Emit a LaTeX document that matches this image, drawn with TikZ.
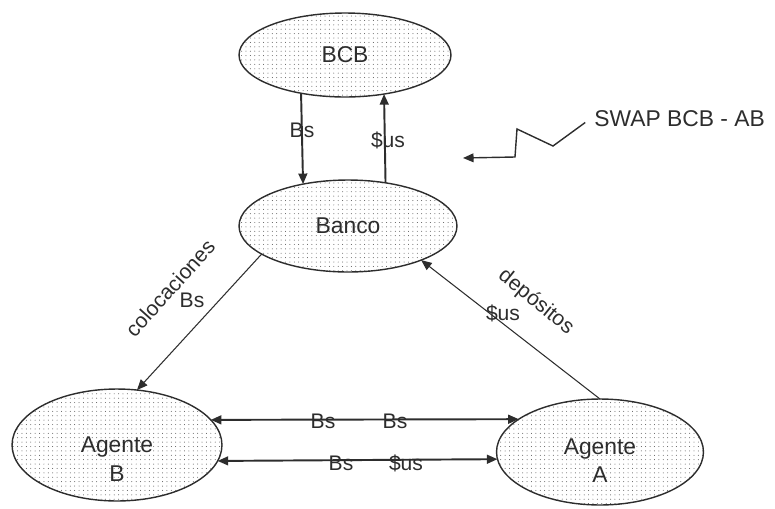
\documentclass[tikz,border=0pt]{standalone}
\usepackage{fontspec}
\setmainfont{Liberation Sans}
\usepackage{xcolor}
\usetikzlibrary{shapes.geometric,arrows.meta,patterns.meta}
\definecolor{inkgray}{RGB}{45,45,45}
\definecolor{dotgray}{RGB}{80,80,80}

\begin{document}
\begin{tikzpicture}[x=0.02cm,y=-0.02cm,
  ent/.style={ellipse,draw=inkgray,line width=0.8pt,inner sep=0pt,outer sep=0pt,
    pattern={Dots[distance=2.5pt,radius=0.28pt]},pattern color=dotgray,
    font=\fontsize{13}{16}\selectfont,text=inkgray,align=center},
  lbl/.style={font=\fontsize{12}{14}\selectfont,text=inkgray,inner sep=1pt},
  flow/.style={draw=inkgray,line width=1.1pt,-{Triangle[length=6pt,width=5pt]}},
  slim flow/.style={draw=inkgray,line width=0.6pt,-{Triangle[length=6pt,width=5pt]}}]
  \useasboundingbox (0,0) rectangle (775,508);
  % entities (pixel grid, y downwards)
  \node[ent,minimum width=4.24cm,minimum height=1.68cm] (bcb) at (345,55) {BCB};
  \node[ent,minimum width=4.36cm,minimum height=1.84cm] (banco) at (348,226) {Banco};
  \node[ent,minimum width=4.2cm,minimum height=2.24cm,text height=41pt] (agenteB) at (117,445) {Agente\\B};
  \node[ent,minimum width=4.14cm,minimum height=2.12cm,text height=35pt] (agenteA) at (600,452) {Agente\\A};
  % BCB <-> Banco
  \draw[flow] (bcb.221.8) -- (banco.137.8);
  \draw[flow] (banco.49.5) -- (bcb.315.8);
  \node[lbl] (bsdown) at (302,130) {Bs};
  \node[lbl] (usup) at (388,140) {\$us};
  % Banco -> Agente B, Agente A -> Banco
  \draw[slim flow] (banco.198.8) -- (agenteB.70.7);
  \node[lbl,rotate=48] (coloc) at (170,288) {colocaciones};
  \node[lbl] (colocbs) at (192,300) {Bs};
  \draw[slim flow] (agenteA.north) -- (banco.335.7);
  \node[lbl,rotate=-39] (depo) at (536,302) {depósitos};
  \node[lbl] (depous) at (503,313) {\$us};
  % agents
  \draw[flow,{Triangle[length=6pt,width=5pt]}-{Triangle[length=6pt,width=5pt]}] (agenteB.15) -- (agenteA.158.8);
  \draw[flow,{Triangle[length=6pt,width=5pt]}-{Triangle[length=6pt,width=5pt]}] (agenteB.351.6) -- (agenteA.184.5);
  \node[lbl] (topbsl) at (323,421) {Bs};
  \node[lbl] (topbsr) at (395,421) {Bs};
  \node[lbl] (botbs) at (341,463) {Bs};
  \node[lbl] (botus) at (406,463) {\$us};
  % swap
  \node[font=\fontsize{13}{16}\selectfont,text=inkgray,anchor=west,inner sep=0pt] (swap) at (594,119) {SWAP BCB - AB};
  \coordinate (zz1) at (553,146);
  \coordinate (zz2) at (517,129);
  \coordinate (zz3) at (515,157);
  \coordinate (swaptip) at (463,158);
  \draw[slim flow,line width=0.8pt] ([xshift=-5pt,yshift=-2pt]swap.west) -- (zz1) -- (zz2) -- (zz3) -- (swaptip);
\end{tikzpicture}
\end{document}
